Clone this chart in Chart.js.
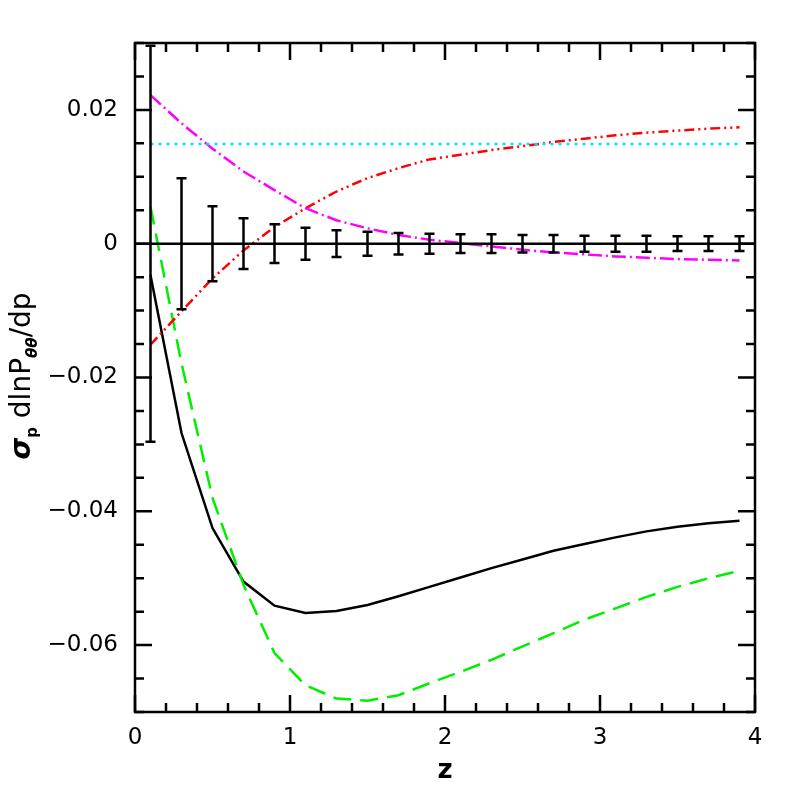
<!DOCTYPE html>
<html>
<head>
<meta charset="utf-8">
<script src="https://cdn.jsdelivr.net/npm/chart.js@4.4.1/dist/chart.umd.min.js"></script>
<style>
    html, body { margin: 0; padding: 0; background: #ffffff; }
    #wrap { width: 797px; height: 797px; }
</style>
</head>
<body>
<div id="wrap"><canvas id="chart" width="797" height="797"></canvas></div>
<script>
// redshift bins
const zValues = [0.1, 0.3, 0.5, 0.7, 0.9, 1.1, 1.3, 1.5, 1.7, 1.9, 2.1, 2.3, 2.5, 2.7, 2.9, 3.1, 3.3, 3.5, 3.7, 3.9];

// curves
const blackSolid = [-0.0047, -0.0283, -0.0425, -0.0505, -0.0541, -0.0552, -0.0549, -0.0540, -0.0527, -0.0513,
                    -0.0499, -0.0485, -0.0472, -0.0459, -0.0449, -0.0439, -0.0430, -0.0423, -0.0418, -0.0414];
const greenDashed = [0.0055, -0.0179, -0.0380, -0.0510, -0.0612, -0.0660, -0.0680, -0.0683, -0.0675, -0.0657,
                     -0.0640, -0.0622, -0.0602, -0.0582, -0.0562, -0.0545, -0.0528, -0.0513, -0.0500, -0.0489];
const redDashDot = [-0.0151, -0.0101, -0.0052, -0.0010, 0.0025, 0.0053, 0.0078, 0.0098, 0.0113, 0.0126,
                    0.0133, 0.0140, 0.0146, 0.0152, 0.0157, 0.0162, 0.0166, 0.0169, 0.0172, 0.0174];
const magentaDashDot = [0.0222, 0.0180, 0.0142, 0.0108, 0.0080, 0.0053, 0.0035, 0.0023, 0.0013, 0.0006,
                        0.0001, -0.0004, -0.0009, -0.0013, -0.0016, -0.0019, -0.0021, -0.0023, -0.0024, -0.0025];
const cyanZ = [0.1, 3.9];
const cyanLevel = [0.0149, 0.0149];

// error bar half-widths around zero
const errHalf = [0.0296, 0.0098, 0.0056, 0.0038, 0.0029, 0.0024, 0.0020, 0.0018, 0.0016, 0.0015,
                 0.0014, 0.0014, 0.0013, 0.0013, 0.0012, 0.0012, 0.0012, 0.0011, 0.0011, 0.0011];

// axes
const xMajorTicks = [0, 1, 2, 3, 4];
const xMinorStep = 0.2;
const yMajorTicks = [-0.06, -0.04, -0.02, 0, 0.02];
const yMinorStep = 0.005;
const xRange = [0, 4];
const yRange = [-0.07, 0.03];

function pts(xs, ys) {
    return xs.map((x, i) => ({ x: x, y: ys[i] }));
}

function fmtY(v) {
    if (Math.abs(v) < 1e-9) return '0';
    const s = Math.abs(v).toFixed(2);
    return v < 0 ? '\u2212' + s : s;
}

// frame with inward ticks on all four sides
const framePlugin = {
    id: 'frame',
    afterDraw(chart) {
        const ctx = chart.ctx;
        const a = chart.chartArea;
        const xs = chart.scales.x, ys = chart.scales.y;
        ctx.save();
        ctx.strokeStyle = '#000';
        ctx.lineWidth = 2.5;
        ctx.strokeRect(a.left, a.top, a.right - a.left, a.bottom - a.top);
        ctx.beginPath();
        for (let v = xRange[0]; v <= xRange[1] + 1e-9; v += xMinorStep) {
            const major = xMajorTicks.some(t => Math.abs(t - v) < 1e-6);
            const len = major ? 17 : 9;
            const px = xs.getPixelForValue(v);
            ctx.moveTo(px, a.bottom); ctx.lineTo(px, a.bottom - len);
            ctx.moveTo(px, a.top); ctx.lineTo(px, a.top + len);
        }
        for (let v = yRange[0]; v <= yRange[1] + 1e-9; v += yMinorStep) {
            const major = yMajorTicks.some(t => Math.abs(t - v) < 1e-6);
            const len = major ? 17 : 9;
            const py = ys.getPixelForValue(v);
            ctx.moveTo(a.left, py); ctx.lineTo(a.left + len, py);
            ctx.moveTo(a.right, py); ctx.lineTo(a.right - len, py);
        }
        ctx.stroke();

        // y title with subscripts
        ctx.fillStyle = '#000';
        ctx.textBaseline = 'alphabetic';
        const parts = [
            { t: '\u03c3', f: 'italic bold 28px "DejaVu Sans"', dy: 0 },
            { t: 'p', f: 'bold 15px "DejaVu Sans"', dy: 7 },
            { t: ' dlnP', f: '28px "DejaVu Sans"', dy: 0 },
            { t: '\u03b8\u03b8', f: 'italic bold 15px "DejaVu Sans"', dy: 7 },
            { t: '/dp', f: '28px "DejaVu Sans"', dy: 0 }
        ];
        let total = 0;
        parts.forEach(p => { ctx.font = p.f; p.w = ctx.measureText(p.t).width; total += p.w; });
        ctx.translate(30, 376);
        ctx.rotate(-Math.PI / 2);
        let x0 = -total / 2;
        parts.forEach(p => {
            ctx.font = p.f;
            ctx.fillText(p.t, x0, p.dy);
            x0 += p.w;
        });
        ctx.restore();
    }
};

// error bars with caps
const errorPlugin = {
    id: 'errbars',
    afterDatasetsDraw(chart) {
        const ctx = chart.ctx;
        const xs = chart.scales.x, ys = chart.scales.y;
        ctx.save();
        ctx.strokeStyle = '#000';
        ctx.lineWidth = 2.5;
        ctx.beginPath();
        zValues.forEach((z, i) => {
            const px = xs.getPixelForValue(z);
            const top = ys.getPixelForValue(errHalf[i]);
            const bot = ys.getPixelForValue(-errHalf[i]);
            ctx.moveTo(px, top); ctx.lineTo(px, bot);
            ctx.moveTo(px - 5, top); ctx.lineTo(px + 5, top);
            ctx.moveTo(px - 5, bot); ctx.lineTo(px + 5, bot);
        });
        ctx.stroke();
        ctx.restore();
    }
};

const ctx = document.getElementById('chart').getContext('2d');
new Chart(ctx, {
    type: 'line',
    data: {
        datasets: [
            { data: pts(xRange, [0, 0]), borderColor: '#000', borderWidth: 2.5 },
            { data: pts(cyanZ, cyanLevel), borderColor: '#00e5ff', borderWidth: 2.5, borderDash: [3, 5] },
            { data: pts(zValues, magentaDashDot), borderColor: '#ff00ff', borderWidth: 2.5, borderDash: [14, 4, 2, 4] },
            { data: pts(zValues, redDashDot), borderColor: '#ff0000', borderWidth: 2.5, borderDash: [10, 4, 2, 4, 2, 4] },
            { data: pts(zValues, greenDashed), borderColor: '#00ee00', borderWidth: 2.5, borderDash: [18, 9] },
            { data: pts(zValues, blackSolid), borderColor: '#000', borderWidth: 2.5 }
        ]
    },
    options: {
        responsive: false,
        animation: false,
        layout: { padding: { top: 43, right: 42, left: 0, bottom: 6 } },
        elements: { point: { radius: 0 }, line: { tension: 0, fill: false } },
        plugins: { legend: { display: false }, tooltip: { enabled: false } },
        scales: {
            x: {
                type: 'linear',
                min: xRange[0], max: xRange[1],
                grid: { display: false, drawTicks: false },
                border: { display: false },
                afterBuildTicks: s => { s.ticks = xMajorTicks.map(v => ({ value: v })); },
                afterFit: s => { s.height = 79; },
                ticks: {
                    padding: 12,
                    color: '#000',
                    font: { family: 'DejaVu Sans', size: 23 },
                    callback: v => String(v)
                },
                title: {
                    display: true, text: 'z', color: '#000',
                    font: { family: 'DejaVu Sans', size: 26, weight: 'bold' },
                    padding: { top: 0 }
                }
            },
            y: {
                type: 'linear',
                min: yRange[0], max: yRange[1],
                grid: { display: false, drawTicks: false },
                border: { display: false },
                afterBuildTicks: s => { s.ticks = yMajorTicks.map(v => ({ value: v })); },
                afterFit: s => { s.width = 135; },
                ticks: {
                    padding: 17,
                    color: '#000',
                    font: { family: 'DejaVu Sans', size: 23 },
                    callback: v => fmtY(v)
                }
            }
        }
    },
    plugins: [framePlugin, errorPlugin]
});
</script>
</body>
</html>
